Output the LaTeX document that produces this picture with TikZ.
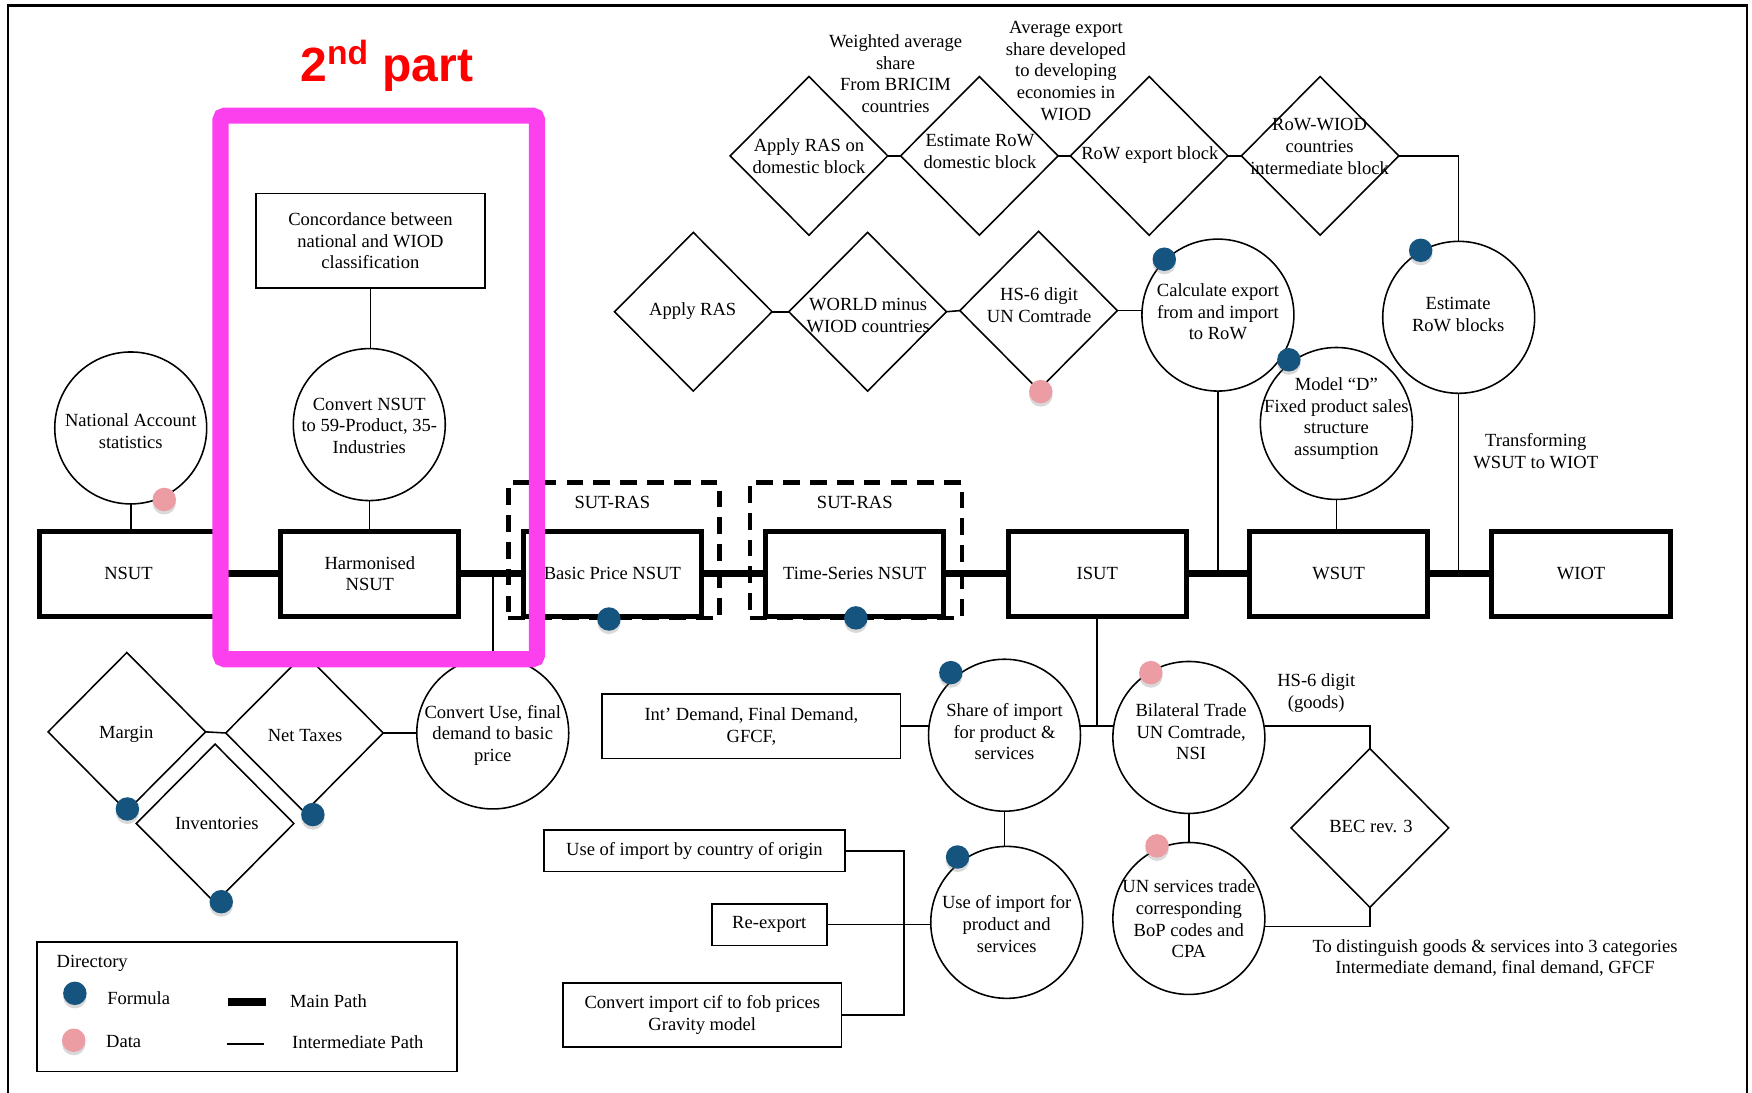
\documentclass[tikz,border=0pt]{standalone}
\usepackage{fontspec}
\setmainfont{Liberation Serif}
\newfontfamily\headfont{Liberation Sans}
\usetikzlibrary{shapes.geometric,shadows}

\definecolor{formula}{RGB}{22,84,128}
\definecolor{datapt}{RGB}{236,156,163}
\definecolor{partpink}{RGB}{252,64,238}
\definecolor{partred}{RGB}{255,0,0}

\begin{document}
\begin{tikzpicture}[x=0.5pt,y=-0.5pt,
  every node/.style={font=\fontsize{8.3}{9.7}\selectfont, inner sep=0pt, outer sep=0pt},
  txt/.style={align=center},
  mainbox/.style={draw, line width=2.25pt, minimum width=79.75pt, minimum height=38.25pt, align=center},
  infobox/.style={draw, line width=0.7pt, align=center},
  roundnode/.style={draw, circle, line width=0.7pt, minimum size=68pt},
  dia/.style={draw, diamond, line width=0.7pt, minimum width=70.5pt, minimum height=71pt},
  mainpath/.style={line width=3pt},
  midpath/.style={line width=0.7pt},
  sutras/.style={draw, line width=2pt, dash pattern=on 7.5pt off 4.5pt, minimum height=60.5pt},
  fdot/.style={circle, fill=formula, minimum size=10.5pt, drop shadow={shadow xshift=0pt, shadow yshift=-1.5pt, opacity=0.3}},
  ddot/.style={circle, fill=datapt, minimum size=10.5pt, drop shadow={shadow xshift=0pt, shadow yshift=-1.5pt, opacity=0.3}},
]
\useasboundingbox (0,0) rectangle (1568,978);

% outer frame (open at the bottom)
\draw[line width=1pt] (7.5,978) -- (7.5,5) -- (1563.5,5) -- (1563.5,978);

% ---------- main chain of tables ----------
\node[mainbox] (nsut) at (115,513.5) {NSUT};
\node[mainbox] (harm) at (331,513.5) {Harmonised\\NSUT};
\node[mainbox] (bpn)  at (548,513.5) {Basic Price NSUT};
\node[mainbox] (tsn)  at (765,513.5) {Time-Series NSUT};
\node[mainbox] (isut) at (982,513.5) {ISUT};
\node[mainbox] (wsut) at (1198,513.5) {WSUT};
\node[mainbox] (wiot) at (1415,513.5) {WIOT};

\node[sutras, minimum width=94.5pt] (sr1) at (549.5,492.5) {};
\node[sutras, minimum width=95pt] (sr2) at (766,492.5) {};
\node (sr1l) at (548,450) {SUT-RAS};
\node (sr2l) at (765,450) {SUT-RAS};

\draw[mainpath] (nsut) -- (harm);
\draw[mainpath] (harm) -- (bpn);
\draw[mainpath] (bpn) -- (tsn);
\draw[mainpath] (tsn) -- (isut);
\draw[mainpath] (isut) -- (wsut);
\draw[mainpath] (wsut) -- (wiot);

% ---------- national part ----------
\node[roundnode] (nac) at (117,383) {};
\node[txt] (nact) at (117,386) {National Account\\statistics};
\node[infobox, minimum width=102.5pt, minimum height=42.5pt] (conc) at (331.5,215.5)
  {Concordance between\\national and WIOD\\classification};
\node[roundnode] (cnsut) at (330.5,380) {};
\node[txt] (cnsutt) at (330.5,381) {Convert NSUT\\to 59-Product, 35-\\Industries};

\draw[midpath] (nac.south) -- (nac.south |- nsut.north);
\draw[midpath] (conc.south) -- (conc.south |- cnsut.north);
\draw[midpath] (cnsut.south) -- (cnsut.south |- harm.north);

% ---------- basic price conversion ----------
\node[dia] (margin) at (113.5,655) {};
\node[txt] (margint) at (113,657) {Margin};
\node[dia] (nettax) at (272.5,656) {};
\node[txt] (nettaxt) at (273,658) {Net Taxes};
\node[dia] (invent) at (192.5,737) {};
\node[txt] (inventt) at (194,737) {Inventories};
\node[roundnode] (cuse) at (441,656) {};
\node[txt] (cuset) at (441,658) {Convert Use, final\\demand to basic\\price};

\draw[midpath] (margin.east) -- (nettax.west);
\draw[midpath] (nettax.east) -- (cuse.west);
\draw[midpath] (cuse.north) -- (cuse.north |- harm.east);

% ---------- rest of world, upper row ----------
\node[dia] (rasdom) at (724,139.5) {};
\node[txt] (rasdomt) at (724,140) {Apply RAS on\\domestic block};
\node[dia] (estdom) at (876.5,139.5) {};
\node[txt] (estdomt) at (877,135.5) {Estimate RoW\\domestic block};
\node[dia] (rowexp) at (1028.5,139.5) {};
\node[txt] (rowexpt) at (1029,139) {RoW export block};
\node[dia] (rowwiod) at (1181.5,139.5) {};
\node[txt] (rowwiodt) at (1181,131) {RoW-WIOD\\countries\\intermediate block};

\node[txt] (wavg) at (801.5,66) {Weighted average\\share\\From BRICIM\\countries};
\node[txt] (avgexp) at (954,63.5) {Average export\\share developed\\to developing\\economies in\\WIOD};

\draw[midpath] (rasdom.east) -- (estdom.west);
\draw[midpath] (estdom.east) -- (rowexp.west);
\draw[midpath] (rowexp.east) -- (rowwiod.west);

% ---------- rest of world, lower row ----------
\node[dia] (ras) at (620.5,279) {};
\node[txt] (rast) at (620,278) {Apply RAS};
\node[dia] (world) at (776.5,279) {};
\node[txt] (worldt) at (777,282.5) {WORLD minus\\WIOD countries};
\node[dia] (hs6) at (929.5,278) {};
\node[txt] (hs6t) at (930,273) {HS-6 digit\\UN Comtrade};
\node[roundnode] (calc) at (1090,282) {};
\node[txt] (calct) at (1090,279) {Calculate export\\from and import\\to RoW};
\node[roundnode] (estrow) at (1305.5,284) {};
\node[txt] (estrowt) at (1305,281.5) {Estimate\\RoW blocks};
\node[roundnode] (modeld) at (1196,379) {};
\node[txt] (modeldt) at (1196,374.5) {Model “D”\\Fixed product sales\\structure\\assumption};
\node[txt] (transf) at (1374.5,404) {Transforming\\WSUT to WIOT};

\draw[midpath] (ras.east) -- (world.west);
\draw[midpath] (world.east) -- (hs6.west);
\draw[midpath] (hs6.east) -- (hs6.east -| calc.west);
\draw[midpath] (rowwiod.east) -| (estrow.north);
\draw[midpath] (calc.south) -- (calc.south |- isut.east);
\draw[midpath] (estrow.south) -- (estrow.south |- wsut.east);
\draw[midpath] (modeld.south) -- (modeld.south |- wsut.north);

% ---------- import use ----------
\node[infobox, minimum width=133.5pt, minimum height=29pt] (intd) at (672.5,650)
  {Int’ Demand, Final Demand,\\GFCF,};
\node[roundnode] (share) at (899,658) {};
\node[txt] (sharet) at (899,655) {Share of import\\for product \&\\services};
\node[roundnode] (useimp) at (901,825.5) {};
\node[txt] (useimpt) at (901,827) {Use of import for\\product and\\services};
\node[infobox, minimum width=134.5pt, minimum height=18.5pt] (uorig) at (621.5,761.5)
  {Use of import by country of origin};
\node[infobox, minimum width=51.5pt, minimum height=18.5pt] (reexp) at (688.5,827.5) {Re-export};
\node[infobox, minimum width=124.5pt, minimum height=28.5pt] (cif) at (628.5,908.5)
  {Convert import cif to fob prices\\Gravity model};
\coordinate (brk) at (809,765);

\draw[midpath] (uorig.east) -| (brk |- cif.east) -- (cif.east);
\draw[midpath] (reexp.east) -- (reexp.east -| useimp.west);
\draw[midpath] (share.south) -- (share.south |- useimp.north);
\draw[midpath] (intd.east) -- (intd.east -| share.west);

% ---------- bilateral trade ----------
\node[roundnode] (bil) at (1064,660) {};
\node[txt] (bilt) at (1066,655) {Bilateral Trade\\UN Comtrade,\\NSI};
\node[roundnode] (unsv) at (1064,822) {};
\node[txt] (unsvt) at (1064,822.5) {UN services trade\\corresponding\\BoP codes and\\CPA};
\node[dia] (bec) at (1226,741) {};
\node[txt] (bect) at (1227,740) {BEC rev. 3};
\node[txt] (hsgoods) at (1178,620.5) {HS-6 digit\\(goods)};
\node[txt] (distg) at (1338,857.5) {To distinguish goods \& services into 3 categories\\Intermediate demand, final demand, GFCF};

\draw[midpath] (share.east |- intd.east) -- (bil.west |- intd.east);
\draw[midpath] (isut.south) -- (isut.south |- intd.east);
\draw[midpath] (bil.south) -- (unsv.north);
\draw[midpath] (bil.east |- intd.east) -| (bec.north);
\draw[midpath] (bec.south) |- (unsv.-6);

% ---------- formula and data markers ----------
\node[ddot] (d1) at (147,447) {};
\node[fdot] (f1) at (545,554) {};
\node[fdot] (f2) at (766,553) {};
\node[fdot] (f3) at (114,724) {};
\node[fdot] (f4) at (280,729) {};
\node[fdot] (f5) at (198,807) {};
\node[ddot] (d2) at (931.5,350.5) {};
\node[fdot] (f6) at (1042,232) {};
\node[fdot] (f7) at (1271.5,224) {};
\node[fdot] (f8) at (1153.5,322) {};
\node[fdot] (f9) at (851,602) {};
\node[fdot] (f10) at (857,767) {};
\node[ddot] (d3) at (1030,602) {};
\node[ddot] (d4) at (1035.5,757) {};

% ---------- legend ----------
\node[infobox, minimum width=188pt, minimum height=58pt] (legend) at (221,901) {};
\node[anchor=west] (dirt) at (50.7,862) {Directory};
\node[fdot] (lf) at (67,889) {};
\node[anchor=west] (lft) at (96,893) {Formula};
\node[ddot] (ld) at (66,931) {};
\node[anchor=west] (ldt) at (95,932) {Data};
\coordinate (lm1) at (204,896.5);
\coordinate (lm2) at (238,896.5);
\draw[line width=3.5pt] (lm1) -- (lm2);
\node[anchor=west] (lmt) at (259.6,895.6) {Main Path};
\coordinate (li1) at (203,934.5);
\coordinate (li2) at (236,934.5);
\draw[midpath] (li1) -- (li2);
\node[anchor=west] (lit) at (261.4,933) {Intermediate Path};

% ---------- highlighted second part ----------
\node[draw=partpink, line width=7.25pt, rounded corners=2pt, minimum width=141.65pt, minimum height=243.25pt] (part2) at (339,346.75) {};
\node[anchor=base west, font=\headfont\bfseries\fontsize{21.5}{24}\selectfont, text=partred] (title) at (268.8,73) {2\textsuperscript{nd} part};

\end{tikzpicture}
\end{document}
